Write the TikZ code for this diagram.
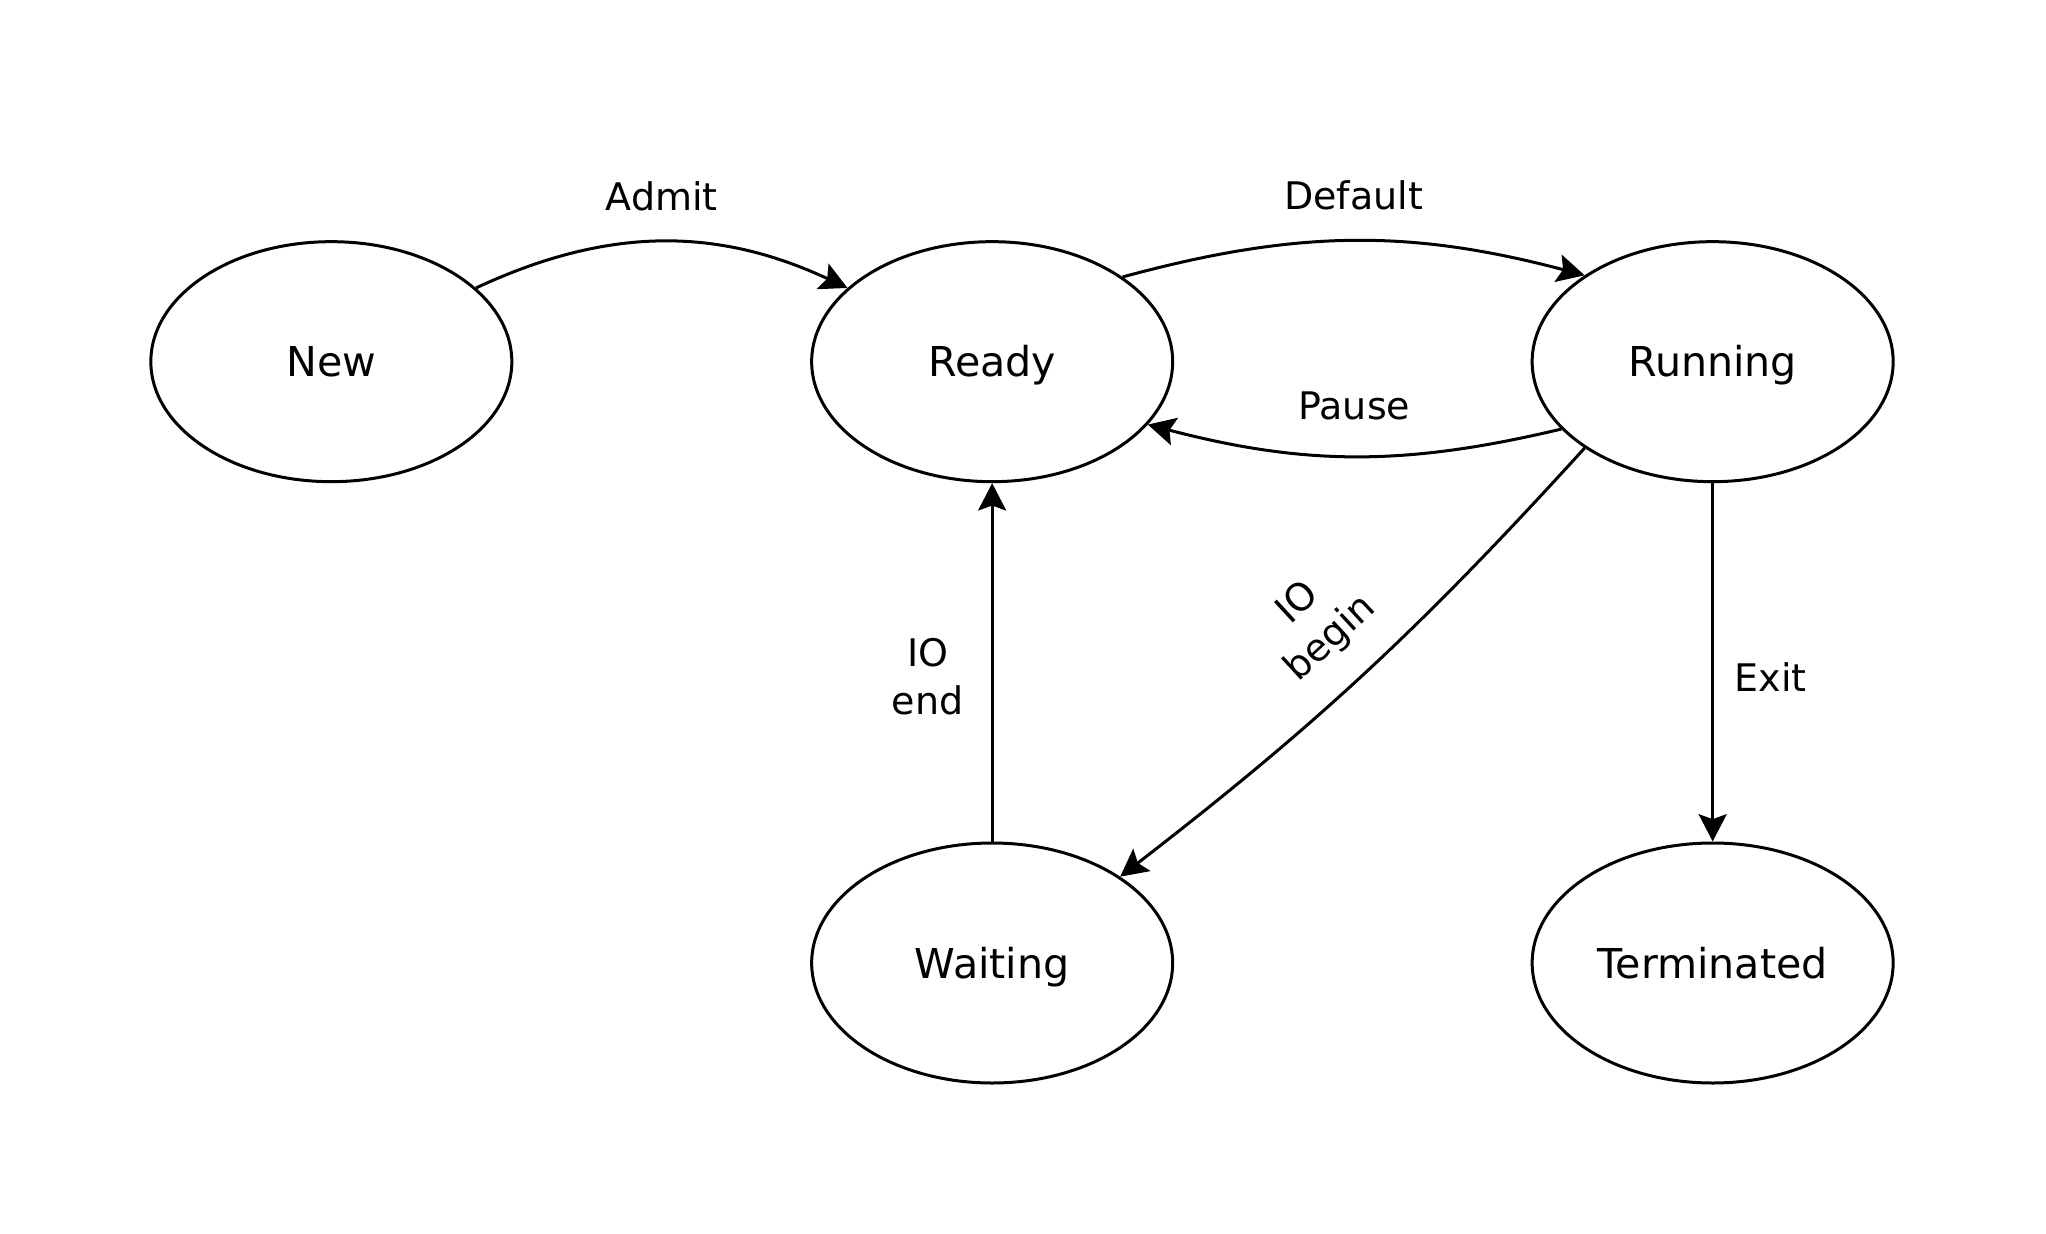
\documentclass[tikz,border=0pt]{standalone}
\usepackage{fontspec}
\setmainfont{DejaVu Sans}
\usepackage{tikz}
\usetikzlibrary{arrows.meta, positioning, shapes.geometric}

\begin{document}
\begin{tikzpicture}[
    >={Stealth[length=8.2pt, width=8.4pt, inset=1.5pt]},
    node distance=107.5pt and 89.05pt,
    line width=0.9pt,
    procstate/.style={draw, ellipse, minimum width=108.3pt, minimum height=72pt, inner sep=0pt, text height=9pt, text depth=0pt, font=\fontsize{12.35}{14.8}\selectfont},
    procarrow/.style={->},
    proclabel/.style={font=\fontsize{11.4}{14.3}\selectfont, align=center}
]

% --- page frame ---
\useasboundingbox (-99.4pt,108.5pt) rectangle (514.4pt,-261.4pt);

% --- States ---
\node[procstate] (new) {New};
\node[procstate, right=of new] (ready) {Ready};
\node[procstate, right=106.95pt of ready] (running) {Running};

\node[procstate, below=of ready] (waiting) {Waiting};
\node[procstate, below=of running] (terminated) {Terminated};

% --- Transitions ---
\draw[procarrow] (new.27) to[bend left=25] node[proclabel, above=5.4pt]{Admit} (ready.153);

\draw[procarrow] (ready.33) to[bend left=15] node[proclabel, above=5.4pt]{Default} (running.146);

\draw[procarrow] (running.204) to[bend left=14] node[proclabel, above=7.2pt]{Pause} (ready.338);

\draw[procarrow] (running.214) to[bend left=5] node[proclabel, midway, sloped, above=7pt, inner sep=1.5pt]{IO\\begin} (waiting.34);

\draw[procarrow] (waiting) -- node[proclabel, left=4.8pt, pos=0.46]{IO\\end} (ready);

\draw[procarrow] (running) -- node[proclabel, right=2.8pt, pos=0.54]{Exit} (terminated);

\end{tikzpicture}
\end{document}
